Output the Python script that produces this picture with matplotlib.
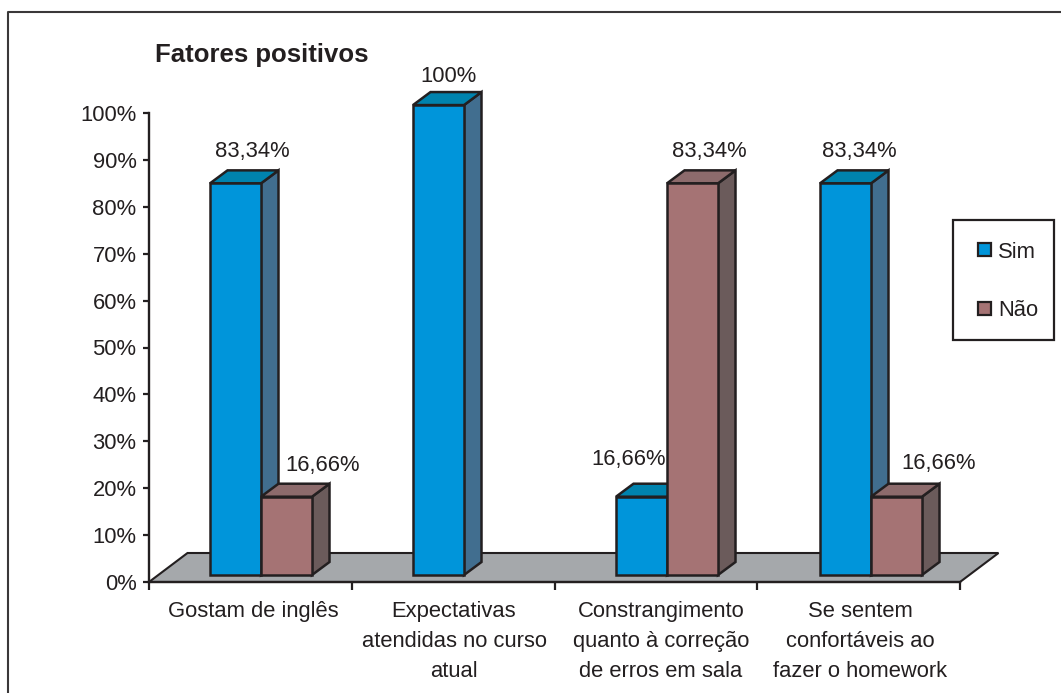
import matplotlib
matplotlib.use('Agg')
import matplotlib.pyplot as plt
from matplotlib.lines import Line2D
from matplotlib.patches import Polygon, Rectangle

categories = ['Gostam de inglês', 'Expectativas\natendidas no curso\natual',
              'Constrangimento\nquanto à correção\nde erros em sala',
              'Se sentem\nconfortáveis ao\nfazer o homework']
sim = [83.34, 100, 16.66, 83.34]
nao = [16.66, None, 83.34, 16.66]
sim_labels = ['83,34%', '100%', '16,66%', '83,34%']
nao_labels = ['16,66%', None, '83,34%', '16,66%']
y_ticks = list(range(0, 101, 10))

W, H = 1061, 693
INK = '#231f20'
BLUE = ('#0095da', '#416e8f', '#0083ae')
RED = ('#a57374', '#6b5b5b', '#8d6b6c')
FS = 15.8

plt.rcParams['font.family'] = ['Liberation Sans', 'DejaVu Sans']
plt.rcParams['text.color'] = INK

fig = plt.figure(figsize=(W / 100, H / 100), dpi=100)

# axes box in pixels: x 149-960, y 113-582
ax = fig.add_axes([149 / W, 1 - 582 / H, (960 - 149) / W, (582 - 113) / H])
ax.set_xlim(0, 4)
ax.set_ylim(0, 100)
ux = (960 - 149) / 4.0   # px per category
uy = (582 - 113) / 100.0  # px per percent


def fx(x):
    return x / W


def fy(y):
    return 1 - y / H


def bar3d(left, value, colors):
    # left is in category units, all extents from the px geometry of the original
    w = 51 / ux
    base = 7 / uy
    top = base + value * 1.002
    dx = 17.5 / ux
    dy = 13 / uy
    right = left + w
    ax.add_patch(Polygon([(right, base), (right + dx, base + dy), (right + dx, top + dy), (right, top)],
                         fc=colors[1], ec=INK, lw=1.8, joinstyle='miter', clip_on=False, zorder=3))
    ax.add_patch(Polygon([(left, top), (right, top), (right + dx, top + dy), (left + dx, top + dy)],
                         fc=colors[2], ec=INK, lw=1.8, joinstyle='miter', clip_on=False, zorder=3))
    ax.add_patch(Rectangle((left, base), w, top - base, fc=colors[0], ec=INK, lw=1.8,
                           clip_on=False, zorder=3))
    return left + w / 2, top


# floor
fd_x = 38.5 / ux
fd_y = 29 / uy
ax.add_patch(Polygon([(0, 0), (fd_x, fd_y), (4 + fd_x, fd_y), (4, 0)], fc='#a5a8ab', ec=INK,
                     lw=1.5, clip_on=False, zorder=1))

# bar left edges and label shifts in px, measured per category
sim_left = [210, 413, 616, 820]
sim_shift = [(17, 151), (10, 77), (-13, 460), (14, 151)]
nao_shift = [(36, 466), None, (17, 151), (42, 464)]
label_centers = [253, 454, 661, 860]

for i in range(len(categories)):
    l1 = (sim_left[i] - 149) / ux
    cx, _ = bar3d(l1, sim[i], BLUE)
    ax.text(cx + sim_shift[i][0] / ux, (582 - sim_shift[i][1]) / uy, sim_labels[i], ha='center',
            va='center', fontsize=FS, zorder=5, clip_on=False)
    if nao[i] is not None:
        l2 = l1 + 51 / ux
        cx, _ = bar3d(l2, nao[i], RED)
        ax.text(cx + nao_shift[i][0] / ux, (582 - nao_shift[i][1]) / uy, nao_labels[i], ha='center',
                va='center', fontsize=FS, zorder=5, clip_on=False)

for s in ['top', 'right']:
    ax.spines[s].set_visible(False)
for s in ['left', 'bottom']:
    ax.spines[s].set_linewidth(1.7)
    ax.spines[s].set_color(INK)
    ax.spines[s].set_zorder(4)
ax.patch.set_alpha(0)

ax.set_yticks(y_ticks)
ax.set_yticklabels(['%d%%' % v for v in y_ticks], fontsize=FS, color=INK)
ax.tick_params(axis='y', length=4.5, width=1.6, color=INK, pad=4.5)
ax.set_xticks(range(5))
ax.set_xticklabels([])
ax.tick_params(axis='x', length=5.8, width=1.6, color=INK)
ax.set_xticks([(c - 149) / ux for c in label_centers], minor=True)
ax.set_xticklabels(categories, minor=True, fontsize=FS, color=INK, linespacing=1.58)
ax.tick_params(axis='x', which='minor', length=0, pad=13.5)

fig.text(fx(155), fy(55), 'Fatores positivos', fontsize=18.5, fontweight='bold', va='center', ha='left')

# outer frame, the source crops it at the right and bottom
fig.add_artist(Line2D([fx(8), fx(8), fx(W)], [fy(H), fy(12), fy(12)], color='#3a3839', lw=1.5))

# legend box
fig.add_artist(Rectangle((fx(953), fy(340)), 101 / W, 120 / H, transform=fig.transFigure,
                         fc='white', ec=INK, lw=1.6))
for y, c, name in [(250, BLUE[0], 'Sim'), (308, RED[0], 'Não')]:
    fig.add_artist(Rectangle((fx(977.5), fy(y + 6.5)), 13 / W, 13 / H, transform=fig.transFigure,
                             fc=c, ec=INK, lw=1.6))
    fig.text(fx(998), fy(y + 2), name, fontsize=FS, va='center', ha='left')

fig.savefig('out.png', dpi=100)
